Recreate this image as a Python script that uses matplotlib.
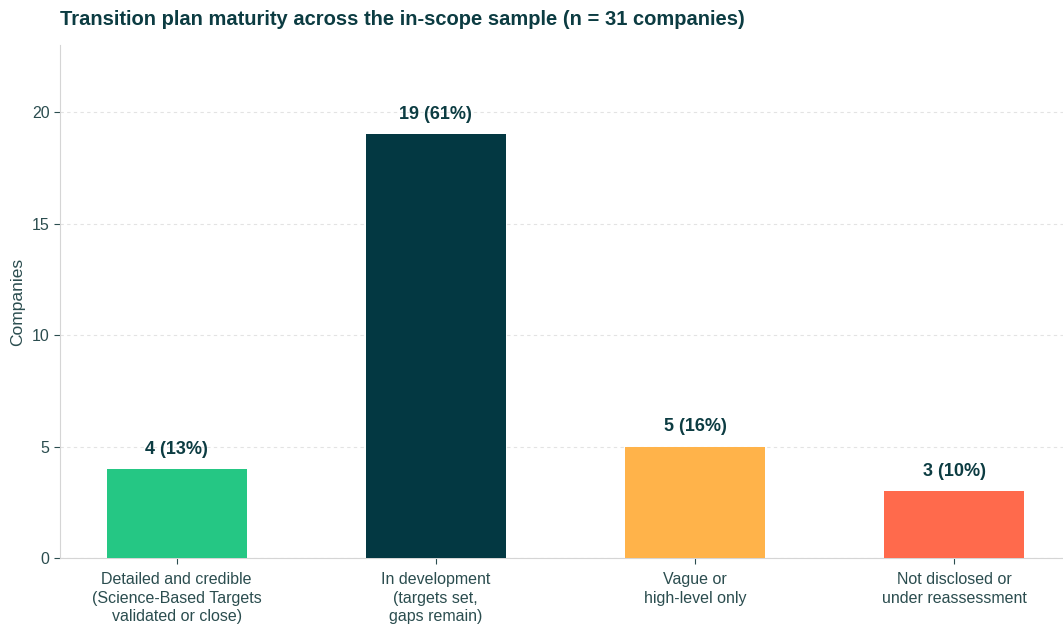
import matplotlib
matplotlib.use("Agg")
import matplotlib.pyplot as plt
import numpy as np

# Transition plan maturity counts for the in-scope sample
categories = [
    "Detailed and credible\n(Science-Based Targets\nvalidated or close)",
    "In development\n(targets set,\ngaps remain)",
    "Vague or\nhigh-level only",
    "Not disclosed or\nunder reassessment",
]
counts = [4, 19, 5, 3]
colors = ["#25C784", "#033842", "#FFB34A", "#FF6A4C"]
total = 31

TEXT = "#0C3C42"
TICK = "#2B4D4F"

plt.rcParams["font.family"] = ["Liberation Sans", "DejaVu Sans"]

fig = plt.figure(figsize=(10.63, 6.27), dpi=100)
ax = fig.add_axes([0.0564, 0.110, 0.9436, 0.818])

x = np.arange(len(categories))
bars = ax.bar(x, counts, width=0.54, color=colors, zorder=3)

for xi, c in zip(x, counts):
    pct = round(100 * c / total)
    ax.annotate(f"{c} ({pct}%)", (xi, c), xytext=(0, 8), textcoords="offset points",
                ha="center", va="bottom", fontsize=13, fontweight="bold", color=TEXT)

ax.set_xlim(-0.45, 3.42)
ax.set_ylim(0, 23)
ax.set_xticks(x)
ax.set_xticklabels(categories, fontsize=11.5, color=TICK, linespacing=1.3)
ax.set_yticks([0, 5, 10, 15, 20])
ax.tick_params(axis="y", labelsize=11.5, labelcolor=TICK, color=TICK, length=4)
ax.tick_params(axis="x", color=TICK, length=4, pad=6)
ax.set_ylabel("Companies", fontsize=12.5, color=TICK, labelpad=5)

ax.grid(axis="y", linestyle=(0, (3, 3)), color="#E3E3E3", linewidth=0.8, zorder=0)
for side in ["top", "right"]:
    ax.spines[side].set_visible(False)
for side in ["left", "bottom"]:
    ax.spines[side].set_color("#D5D5D5")

fig.text(0.0564, 0.969, "Transition plan maturity across the in-scope sample (n = 31 companies)",
         fontsize=14.5, fontweight="bold", color=TEXT, ha="left", va="center",
         family=["Liberation Sans Narrow", "Liberation Sans", "DejaVu Sans"])

fig.savefig("out.png", dpi=100)
